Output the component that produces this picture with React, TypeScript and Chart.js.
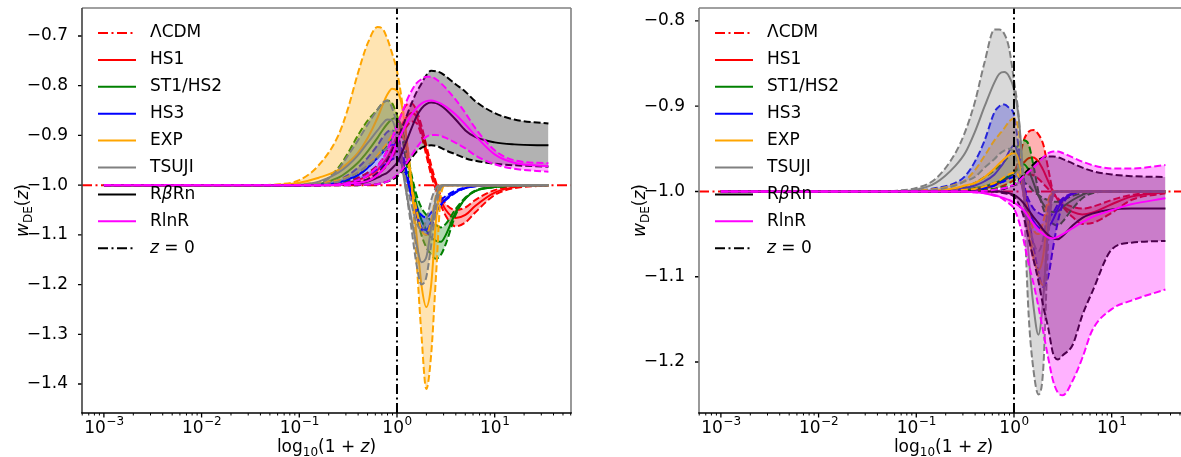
import React, { useEffect, useRef } from 'react';
import { Chart, registerables } from 'chart.js';

Chart.register(...registerables);

const FONT = '"DejaVu Sans", sans-serif';

// x grid (value of the log-scaled axis)
const X = [0.001, 0.0316, 0.0631, 0.1, 0.158, 0.251, 0.316, 0.398, 0.501, 0.631, 0.708, 0.794, 0.891, 1, 1.122, 1.259, 1.413, 1.585, 1.778, 1.995, 2.239, 2.512, 2.818, 3.162, 3.981, 5.012, 6.31, 10, 15.85, 35.48];

const X_TICKS = [0.001, 0.01, 0.1, 1, 10];
const X_TICK_BASE = '10';
const X_TICK_EXP = ['\u22123', '\u22122', '\u22121', '0', '1'];
const LEFT_Y_TICKS = [-1.4, -1.3, -1.2, -1.1, -1.0, -0.9, -0.8, -0.7];
const RIGHT_Y_TICKS = [-1.2, -1.1, -1.0, -0.9, -0.8];
const X_RANGE = [0.000597, 60.4];
const LEFT_Y_RANGE = [-1.4583, -0.6437];
const RIGHT_Y_RANGE = [-1.2598, -0.7848];
const LCDM_W = -1;
const Z0_X = 1;

const MODEL_NAMES = ['HS1', 'ST1/HS2', 'HS3', 'EXP', 'TSUJI', 'R\u03B2Rn', 'RlnR'];
const MODEL_COLORS = ['#ff0000', '#008000', '#0000ff', '#ffa500', '#808080', '#000000', '#ff00ff'];

// ---------- left panel ----------
const L_HS1_LO = [-1, -1, -1, -1, -1, -0.999, -0.997, -0.995, -0.99, -0.98, -0.97, -0.96, -0.945, -0.925, -0.9, -0.882, -0.872, -0.875, -0.9, -0.94, -0.98, -1.01, -1.04, -1.062, -1.083, -1.075, -1.055, -1.02, -1.006, -1.001];
const L_HS1_MID = [-1, -1, -1, -1, -0.999, -0.998, -0.995, -0.99, -0.982, -0.97, -0.958, -0.945, -0.925, -0.9, -0.878, -0.862, -0.855, -0.862, -0.89, -0.93, -0.97, -1.0, -1.03, -1.05, -1.066, -1.06, -1.042, -1.015, -1.004, -1.0];
const L_HS1_HI = [-1, -1, -1, -1, -0.999, -0.997, -0.993, -0.985, -0.975, -0.96, -0.948, -0.93, -0.905, -0.88, -0.855, -0.838, -0.836, -0.85, -0.88, -0.92, -0.96, -0.995, -1.022, -1.038, -1.05, -1.045, -1.03, -1.01, -1.003, -1.0];

const L_ST_LO = [-1, -1, -1, -1, -0.999, -0.995, -0.99, -0.98, -0.965, -0.945, -0.932, -0.92, -0.905, -0.892, -0.895, -0.93, -0.98, -1.02, -1.045, -1.06, -1.072, -1.08, -1.085, -1.078, -1.048, -1.025, -1.011, -1.004, -1.001, -1.0];
const L_ST_MID = [-1, -1, -1, -1, -0.998, -0.985, -0.972, -0.955, -0.932, -0.905, -0.89, -0.877, -0.867, -0.865, -0.885, -0.93, -0.99, -1.04, -1.07, -1.09, -1.105, -1.112, -1.114, -1.1, -1.055, -1.027, -1.012, -1.004, -1.001, -1.0];
const L_ST_HI = [-1, -1, -1, -1, -0.997, -0.965, -0.935, -0.9, -0.87, -0.848, -0.836, -0.83, -0.835, -0.86, -0.9, -0.96, -1.01, -1.06, -1.1, -1.125, -1.14, -1.148, -1.14, -1.118, -1.06, -1.027, -1.012, -1.004, -1.001, -1.0];

const L_HS3_LO = [-1, -1, -1, -1, -1, -0.998, -0.995, -0.99, -0.98, -0.968, -0.962, -0.955, -0.948, -0.945, -0.96, -0.99, -1.02, -1.045, -1.06, -1.065, -1.055, -1.042, -1.03, -1.022, -1.011, -1.005, -1.001, -1.0, -1.0, -1.0];
const L_HS3_MID = [-1, -1, -1, -1, -0.999, -0.995, -0.988, -0.98, -0.965, -0.945, -0.935, -0.925, -0.918, -0.92, -0.945, -0.985, -1.025, -1.06, -1.085, -1.09, -1.075, -1.055, -1.04, -1.028, -1.014, -1.006, -1.002, -1.0, -1.0, -1.0];
const L_HS3_HI = [-1, -1, -1, -1, -0.998, -0.99, -0.98, -0.965, -0.945, -0.92, -0.905, -0.893, -0.89, -0.9, -0.93, -0.975, -1.02, -1.06, -1.09, -1.1, -1.085, -1.06, -1.04, -1.03, -1.015, -1.006, -1.002, -1.0, -1.0, -1.0];

const L_EXP_LO = [-1, -1, -1, -0.998, -0.995, -0.99, -0.983, -0.975, -0.96, -0.94, -0.928, -0.915, -0.9, -0.89, -0.895, -0.94, -1.0, -1.05, -1.09, -1.1, -1.07, -1.02, -1.0, -1.0, -1.0, -1.0, -1.0, -1.0, -1.0, -1.0];
const L_EXP_MID = [-1, -1, -0.999, -0.995, -0.985, -0.97, -0.955, -0.935, -0.905, -0.865, -0.84, -0.818, -0.806, -0.81, -0.84, -0.91, -1.0, -1.1, -1.2, -1.245, -1.2, -1.07, -1.0, -1.0, -1.0, -1.0, -1.0, -1.0, -1.0, -1.0];
const L_EXP_HI = [-1, -1, -0.998, -0.99, -0.96, -0.9, -0.845, -0.775, -0.715, -0.682, -0.685, -0.705, -0.735, -0.77, -0.83, -0.91, -1.0, -1.15, -1.3, -1.41, -1.34, -1.18, -1.02, -1.0, -1.0, -1.0, -1.0, -1.0, -1.0, -1.0];

const L_TS_LO = [-1, -1, -1, -1, -0.999, -0.993, -0.985, -0.975, -0.96, -0.945, -0.935, -0.925, -0.915, -0.915, -0.95, -1.0, -1.04, -1.075, -1.09, -1.07, -1.03, -1.005, -1.0, -1.0, -1.0, -1.0, -1.0, -1.0, -1.0, -1.0];
const L_TS_MID = [-1, -1, -1, -0.999, -0.993, -0.975, -0.96, -0.94, -0.915, -0.89, -0.877, -0.868, -0.87, -0.9, -0.96, -1.02, -1.07, -1.12, -1.155, -1.145, -1.085, -1.025, -1.0, -1.0, -1.0, -1.0, -1.0, -1.0, -1.0, -1.0];
const L_TS_HI = [-1, -1, -1, -1, -0.997, -0.968, -0.94, -0.91, -0.878, -0.848, -0.835, -0.83, -0.845, -0.88, -0.95, -1.02, -1.09, -1.16, -1.2, -1.185, -1.12, -1.045, -1.005, -1.0, -1.0, -1.0, -1.0, -1.0, -1.0, -1.0];

const L_RB_LO = [-1, -1, -1, -1, -1, -1, -1, -1, -0.999, -0.998, -0.996, -0.993, -0.989, -0.983, -0.972, -0.958, -0.945, -0.933, -0.925, -0.921, -0.92, -0.921, -0.925, -0.93, -0.938, -0.946, -0.951, -0.957, -0.96, -0.963];
const L_RB_MID = [-1, -1, -1, -1, -1, -0.999, -0.998, -0.997, -0.993, -0.985, -0.98, -0.975, -0.966, -0.955, -0.935, -0.91, -0.885, -0.862, -0.846, -0.837, -0.834, -0.835, -0.84, -0.848, -0.868, -0.89, -0.903, -0.914, -0.918, -0.92];
const L_RB_HI = [-1, -1, -1, -1, -1, -0.998, -0.996, -0.993, -0.988, -0.975, -0.965, -0.95, -0.93, -0.91, -0.885, -0.86, -0.835, -0.813, -0.796, -0.779, -0.77, -0.771, -0.774, -0.781, -0.797, -0.812, -0.831, -0.855, -0.868, -0.876];

const L_RL_LO = [-1, -1, -1, -1, -1, -1, -1, -0.999, -0.999, -0.998, -0.996, -0.993, -0.987, -0.98, -0.97, -0.955, -0.94, -0.925, -0.912, -0.903, -0.899, -0.899, -0.901, -0.905, -0.915, -0.926, -0.94, -0.958, -0.967, -0.973];
const L_RL_MID = [-1, -1, -1, -1, -1, -0.999, -0.997, -0.995, -0.992, -0.98, -0.97, -0.958, -0.94, -0.915, -0.895, -0.875, -0.858, -0.845, -0.836, -0.831, -0.83, -0.832, -0.836, -0.842, -0.858, -0.878, -0.9, -0.938, -0.955, -0.962];
const L_RL_HI = [-1, -1, -1, -1, -1, -0.998, -0.995, -0.99, -0.98, -0.962, -0.948, -0.93, -0.905, -0.88, -0.855, -0.83, -0.81, -0.795, -0.787, -0.782, -0.782, -0.787, -0.795, -0.805, -0.828, -0.855, -0.885, -0.93, -0.95, -0.956];

// ---------- right panel ----------
const R_HS1_LO = [-1, -1, -1, -1, -1, -1, -1, -0.999, -0.998, -0.997, -0.995, -0.993, -0.99, -0.987, -0.984, -0.981, -0.98, -0.981, -0.985, -0.991, -0.997, -1.002, -1.01, -1.018, -1.03, -1.038, -1.037, -1.025, -1.01, -1.002];
const R_HS1_MID = [-1, -1, -1, -1, -1, -1, -0.999, -0.998, -0.996, -0.993, -0.99, -0.987, -0.983, -0.978, -0.972, -0.966, -0.961, -0.96, -0.965, -0.975, -0.988, -1.0, -1.01, -1.017, -1.024, -1.027, -1.025, -1.015, -1.006, -1.001];
const R_HS1_HI = [-1, -1, -1, -1, -1, -0.999, -0.998, -0.997, -0.995, -0.992, -0.989, -0.986, -0.982, -0.977, -0.963, -0.94, -0.93, -0.928, -0.933, -0.945, -0.973, -1.0, -1.008, -1.013, -1.018, -1.02, -1.018, -1.01, -1.004, -1.0];

const R_ST_LO = [-1, -1, -1, -1, -1, -1, -1, -0.999, -0.998, -0.997, -0.996, -0.995, -0.994, -0.993, -0.991, -0.99, -0.993, -1.0, -1.004, -1.008, -1.01, -1.012, -1.012, -1.01, -1.005, -1.002, -1.0, -1.0, -1.0, -1.0];
const R_ST_MID = [-1, -1, -1, -1, -1, -0.999, -0.998, -0.996, -0.994, -0.99, -0.988, -0.985, -0.982, -0.978, -0.972, -0.968, -0.975, -0.99, -1.005, -1.015, -1.022, -1.024, -1.023, -1.018, -1.01, -1.004, -1.0, -1.0, -1.0, -1.0];
const R_ST_HI = [-1, -1, -1, -1, -1, -0.997, -0.995, -0.99, -0.983, -0.975, -0.97, -0.965, -0.958, -0.952, -0.945, -0.94, -0.945, -0.97, -1.0, -1.02, -1.032, -1.038, -1.04, -1.035, -1.02, -1.008, -1.002, -1.0, -1.0, -1.0];

const R_HS3_LO = [-1, -1, -1, -1, -1, -1, -1, -0.998, -0.996, -0.993, -0.99, -0.988, -0.985, -0.983, -0.985, -0.995, -1.01, -1.02, -1.025, -1.028, -1.03, -1.025, -1.015, -1.008, -1.002, -1.0, -1.0, -1.0, -1.0, -1.0];
const R_HS3_MID = [-1, -1, -1, -1, -0.999, -0.998, -0.996, -0.993, -0.988, -0.98, -0.973, -0.965, -0.953, -0.946, -0.96, -0.995, -1.02, -1.035, -1.042, -1.045, -1.042, -1.033, -1.02, -1.01, -1.003, -1.0, -1.0, -1.0, -1.0, -1.0];
const R_HS3_HI = [-1, -1, -1, -0.999, -0.996, -0.99, -0.982, -0.965, -0.94, -0.907, -0.9, -0.898, -0.902, -0.91, -0.95, -0.985, -1.03, -1.065, -1.095, -1.112, -1.1, -1.066, -1.035, -1.015, -1.003, -1.0, -1.0, -1.0, -1.0, -1.0];

const R_EXP_LO = [-1, -1, -1, -1, -1, -0.999, -0.998, -0.997, -0.994, -0.99, -0.987, -0.983, -0.98, -0.978, -0.982, -1.0, -1.025, -1.045, -1.05, -1.035, -1.01, -1.0, -1.0, -1.0, -1.0, -1.0, -1.0, -1.0, -1.0, -1.0];
const R_EXP_MID = [-1, -1, -1, -1, -0.999, -0.996, -0.993, -0.99, -0.983, -0.973, -0.967, -0.962, -0.957, -0.955, -0.965, -1.005, -1.05, -1.08, -1.092, -1.075, -1.02, -1.0, -1.0, -1.0, -1.0, -1.0, -1.0, -1.0, -1.0, -1.0];
const R_EXP_HI = [-1, -1, -1, -0.999, -0.997, -0.992, -0.987, -0.975, -0.958, -0.94, -0.933, -0.926, -0.918, -0.914, -0.93, -0.995, -1.04, -1.075, -1.1, -1.11, -1.04, -1.0, -1.0, -1.0, -1.0, -1.0, -1.0, -1.0, -1.0, -1.0];

const R_TS_LO = [-1, -1, -1, -1, -0.998, -0.993, -0.988, -0.983, -0.972, -0.962, -0.956, -0.952, -0.95, -0.955, -0.975, -1.005, -1.035, -1.06, -1.07, -1.055, -1.02, -1.0, -1.0, -1.0, -1.0, -1.0, -1.0, -1.0, -1.0, -1.0];
const R_TS_MID = [-1, -1, -1, -0.998, -0.99, -0.97, -0.955, -0.93, -0.9, -0.872, -0.862, -0.86, -0.865, -0.88, -0.915, -0.99, -1.075, -1.135, -1.168, -1.125, -1.04, -1.003, -1.0, -1.0, -1.0, -1.0, -1.0, -1.0, -1.0, -1.0];
const R_TS_HI = [-1, -1, -0.999, -0.996, -0.985, -0.955, -0.93, -0.895, -0.848, -0.81, -0.81, -0.815, -0.832, -0.87, -0.915, -1.01, -1.145, -1.21, -1.238, -1.207, -1.06, -1.005, -1.0, -1.0, -1.0, -1.0, -1.0, -1.0, -1.0, -1.0];

const R_RB_LO = [-1, -1, -1, -1, -1, -1, -1, -1, -1, -1, -1.001, -1.002, -1.003, -1.006, -1.015, -1.03, -1.055, -1.08, -1.105, -1.135, -1.16, -1.19, -1.197, -1.192, -1.18, -1.145, -1.118, -1.068, -1.06, -1.058];
const R_RB_MID = [-1, -1, -1, -1, -1, -1, -1, -1, -1, -1, -1, -1.001, -1.002, -1.004, -1.008, -1.014, -1.022, -1.03, -1.037, -1.045, -1.051, -1.055, -1.056, -1.052, -1.04, -1.031, -1.026, -1.021, -1.02, -1.02];
const R_RB_HI = [-1, -1, -1, -1, -1, -1, -1, -1, -0.999, -0.999, -0.998, -0.997, -0.995, -0.992, -0.987, -0.98, -0.974, -0.968, -0.963, -0.96, -0.959, -0.959, -0.96, -0.962, -0.967, -0.972, -0.976, -0.98, -0.982, -0.983];

const R_RL_LO = [-1, -1, -1, -1, -1, -1, -1, -1.001, -1.002, -1.004, -1.006, -1.01, -1.014, -1.02, -1.035, -1.058, -1.085, -1.108, -1.135, -1.165, -1.195, -1.222, -1.236, -1.239, -1.222, -1.195, -1.163, -1.138, -1.128, -1.115];
const R_RL_MID = [-1, -1, -1, -1, -1, -1, -1, -1.001, -1.002, -1.005, -1.006, -1.008, -1.01, -1.013, -1.017, -1.022, -1.03, -1.038, -1.045, -1.05, -1.054, -1.055, -1.053, -1.05, -1.043, -1.036, -1.03, -1.022, -1.015, -1.008];
const R_RL_HI = [-1, -1, -1, -1, -1, -1, -1, -1, -0.999, -0.998, -0.997, -0.996, -0.994, -0.992, -0.988, -0.982, -0.977, -0.972, -0.966, -0.96, -0.955, -0.953, -0.953, -0.955, -0.96, -0.965, -0.969, -0.973, -0.973, -0.969];

const LEFT_MODELS = [
  [L_HS1_LO, L_HS1_MID, L_HS1_HI],
  [L_ST_LO, L_ST_MID, L_ST_HI],
  [L_HS3_LO, L_HS3_MID, L_HS3_HI],
  [L_EXP_LO, L_EXP_MID, L_EXP_HI],
  [L_TS_LO, L_TS_MID, L_TS_HI],
  [L_RB_LO, L_RB_MID, L_RB_HI],
  [L_RL_LO, L_RL_MID, L_RL_HI],
];
const RIGHT_MODELS = [
  [R_HS1_LO, R_HS1_MID, R_HS1_HI],
  [R_ST_LO, R_ST_MID, R_ST_HI],
  [R_HS3_LO, R_HS3_MID, R_HS3_HI],
  [R_EXP_LO, R_EXP_MID, R_EXP_HI],
  [R_TS_LO, R_TS_MID, R_TS_HI],
  [R_RB_LO, R_RB_MID, R_RB_HI],
  [R_RL_LO, R_RL_MID, R_RL_HI],
];

const DASH = [7, 3];
const DASHDOT = [10, 3.5, 2, 3.5];

type Seg = { t: string; it?: boolean; sub?: boolean };

const LEGEND: { segs: Seg[]; color: string; dash: number[] }[] = [
  { segs: [{ t: '\u039BCDM' }], color: '#ff0000', dash: DASHDOT },
  { segs: [{ t: 'HS1' }], color: MODEL_COLORS[0], dash: [] },
  { segs: [{ t: 'ST1/HS2' }], color: MODEL_COLORS[1], dash: [] },
  { segs: [{ t: 'HS3' }], color: MODEL_COLORS[2], dash: [] },
  { segs: [{ t: 'EXP' }], color: MODEL_COLORS[3], dash: [] },
  { segs: [{ t: 'TSUJI' }], color: MODEL_COLORS[4], dash: [] },
  { segs: [{ t: 'R' }, { t: '\u03B2', it: true }, { t: 'Rn' }], color: MODEL_COLORS[5], dash: [] },
  { segs: [{ t: 'RlnR' }], color: MODEL_COLORS[6], dash: [] },
  { segs: [{ t: 'z', it: true }, { t: ' = 0' }], color: '#000000', dash: DASHDOT },
];

const X_TITLE: Seg[] = [{ t: 'log' }, { t: '10', sub: true }, { t: '(1 + ' }, { t: 'z', it: true }, { t: ')' }];
const Y_TITLE: Seg[] = [{ t: 'w', it: true }, { t: 'DE', sub: true }, { t: '(' }, { t: 'z', it: true }, { t: ')' }];

const X_MINOR: number[] = [];
for (let e = -4; e <= 1; e++) for (let k = 2; k <= 9; k++) X_MINOR.push(k * Math.pow(10, e));

function rgba(hex: string, a: number) {
  const n = parseInt(hex.slice(1), 16);
  return `rgba(${(n >> 16) & 255},${(n >> 8) & 255},${n & 255},${a})`;
}

function drawRich(ctx: CanvasRenderingContext2D, segs: Seg[], x: number, y: number, size: number, align: 'left' | 'center') {
  const font = (s: Seg) => `${s.it ? 'italic ' : ''}${s.sub ? Math.round(size * 0.7) : size}px ${FONT}`;
  let w = 0;
  for (const s of segs) {
    ctx.font = font(s);
    w += ctx.measureText(s.t).width;
  }
  let cx = align === 'center' ? x - w / 2 : x;
  ctx.textAlign = 'left';
  for (const s of segs) {
    ctx.font = font(s);
    ctx.fillText(s.t, cx, y + (s.sub ? size * 0.22 : 0));
    cx += ctx.measureText(s.t).width;
  }
}

const decorPlugin = {
  id: 'decor',
  afterDraw(chart: any, _args: any, opts: any) {
    const { ctx, chartArea: ca } = chart;
    const xs = chart.scales.x;
    const ys = chart.scales.y;
    ctx.save();
    ctx.setLineDash([]);
    ctx.strokeStyle = '#000';
    ctx.lineWidth = 1.3;
    ctx.beginPath();
    for (const v of opts.yTicks) {
      const p = ys.getPixelForValue(v);
      ctx.moveTo(ca.left, p);
      ctx.lineTo(ca.left - 4, p);
    }
    for (const v of X_TICKS) {
      const p = xs.getPixelForValue(v);
      ctx.moveTo(p, ca.bottom);
      ctx.lineTo(p, ca.bottom + 4.5);
    }
    ctx.stroke();
    ctx.lineWidth = 1;
    ctx.beginPath();
    for (const v of X_MINOR) {
      if (v <= xs.min || v >= xs.max) continue;
      const p = xs.getPixelForValue(v);
      ctx.moveTo(p, ca.bottom);
      ctx.lineTo(p, ca.bottom + 2.5);
    }
    ctx.stroke();

    const seg = (c: string, x1: number, y1: number, x2: number, y2: number) => {
      ctx.strokeStyle = c;
      ctx.lineWidth = 1.6;
      ctx.beginPath();
      ctx.moveTo(x1, y1);
      ctx.lineTo(x2, y2);
      ctx.stroke();
    };
    seg('#808080', ca.left, ca.top, ca.right, ca.top);
    seg('#808080', ca.right, ca.top, ca.right, ca.bottom);
    seg(opts.leftSpine, ca.left, ca.top, ca.left, ca.bottom);
    seg('#000000', ca.left - 0.8, ca.bottom, ca.right + 0.8, ca.bottom);

    // x tick labels, 10 with a raised exponent
    ctx.fillStyle = '#000';
    ctx.textBaseline = 'alphabetic';
    ctx.textAlign = 'left';
    X_TICKS.forEach((v, i) => {
      const p = xs.getPixelForValue(v);
      ctx.font = `17px ${FONT}`;
      const wb = ctx.measureText(X_TICK_BASE).width;
      ctx.font = `12px ${FONT}`;
      const we = ctx.measureText(X_TICK_EXP[i]).width;
      const x0 = p - (wb + we) / 2;
      ctx.font = `17px ${FONT}`;
      ctx.fillText(X_TICK_BASE, x0, ca.bottom + 20);
      ctx.font = `12px ${FONT}`;
      ctx.fillText(X_TICK_EXP[i], x0 + wb + 0.5, ca.bottom + 12);
    });

    drawRich(ctx, X_TITLE, (ca.left + ca.right) / 2, ca.bottom + 39, 17, 'center');
    ctx.save();
    ctx.translate(ca.left - 54, (ca.top + ca.bottom) / 2);
    ctx.rotate(-Math.PI / 2);
    drawRich(ctx, Y_TITLE, 0, 0, 17, 'center');
    ctx.restore();

    LEGEND.forEach((e, i) => {
      const y = ca.top + 25 + 26.9 * i;
      ctx.strokeStyle = e.color;
      ctx.lineWidth = 2;
      ctx.setLineDash(e.dash);
      ctx.beginPath();
      ctx.moveTo(ca.left + 16, y);
      ctx.lineTo(ca.left + 54, y);
      ctx.stroke();
      ctx.setLineDash([]);
      ctx.fillStyle = '#000';
      ctx.textBaseline = 'middle';
      drawRich(ctx, e.segs, ca.left + 68, y, 17, 'left');
    });
    ctx.restore();
  },
};

type PanelCfg = {
  left: number;
  width: number;
  axisW: number;
  models: number[][][];
  yRange: number[];
  yTicks: number[];
  leftSpine: string;
};

function buildDatasets(cfg: PanelCfg) {
  const ds: any[] = [];
  const pts = (arr: number[]) => X.map((x, i) => ({ x, y: arr[i] }));
  ds.push({
    label: '\u039BCDM',
    data: X_RANGE.map((x) => ({ x, y: LCDM_W })),
    borderColor: '#ff0000',
    borderWidth: 2,
    borderDash: DASHDOT,
    tension: 0,
    cubicInterpolationMode: 'default',
    fill: false,
  });
  cfg.models.forEach(([lo, mid, hi], m) => {
    const c = MODEL_COLORS[m];
    ds.push({ label: MODEL_NAMES[m] + ' lo', data: pts(lo), borderColor: c, borderWidth: 2, borderDash: DASH, fill: false });
    ds.push({ label: MODEL_NAMES[m] + ' hi', data: pts(hi), borderColor: c, borderWidth: 2, borderDash: DASH, fill: '-1', backgroundColor: rgba(c, 0.3) });
    ds.push({ label: MODEL_NAMES[m], data: pts(mid), borderColor: c, borderWidth: 2, fill: false });
  });
  ds.push({
    label: 'z = 0',
    data: cfg.yRange.map((y) => ({ x: Z0_X, y })),
    borderColor: '#000000',
    borderWidth: 2,
    borderDash: DASHDOT,
    tension: 0,
    cubicInterpolationMode: 'default',
    fill: false,
  });
  ds.forEach((d, i) => {
    d.order = -i;
    d.pointRadius = 0;
  });
  return ds;
}

function makeConfig(cfg: PanelCfg): any {
  const tickFont = { family: FONT, size: 17 };
  return {
    type: 'line',
    data: { datasets: buildDatasets(cfg) },
    plugins: [decorPlugin],
    options: {
      responsive: false,
      animation: false,
      devicePixelRatio: 1,
      events: [],
      layout: { padding: { left: 0, right: 19, top: 8, bottom: 0 } },
      elements: { point: { radius: 0 }, line: { cubicInterpolationMode: 'monotone' } },
      plugins: {
        legend: { display: false },
        tooltip: { enabled: false },
        decor: { yTicks: cfg.yTicks, leftSpine: cfg.leftSpine },
      },
      scales: {
        x: {
          type: 'logarithmic',
          min: X_RANGE[0],
          max: X_RANGE[1],
          grid: { display: false },
          border: { display: false },
          afterBuildTicks: (s: any) => {
            s.ticks = X_TICKS.map((v) => ({ value: v }));
          },
          afterFit: (s: any) => {
            s.height = 44;
            s.paddingLeft = 0;
            s.paddingRight = 0;
          },
          ticks: { display: false, autoSkip: false, maxRotation: 0, minRotation: 0 },
        },
        y: {
          type: 'linear',
          min: cfg.yRange[0],
          max: cfg.yRange[1],
          grid: { display: false },
          border: { display: false },
          afterBuildTicks: (s: any) => {
            s.ticks = cfg.yTicks.map((v) => ({ value: v }));
          },
          afterFit: (s: any) => {
            s.width = cfg.axisW;
            s.paddingTop = 0;
            s.paddingBottom = 0;
          },
          ticks: {
            padding: 6,
            color: '#000',
            font: tickFont,
            callback: (v: number) => (v < 0 ? '\u2212' : '') + Math.abs(v).toFixed(1),
          },
        },
      },
    },
  };
}

const LEFT_CFG: PanelCfg = { left: 0, width: 590, axisW: 82, models: LEFT_MODELS, yRange: LEFT_Y_RANGE, yTicks: LEFT_Y_TICKS, leftSpine: '#404040' };
const RIGHT_CFG: PanelCfg = { left: 590, width: 617, axisW: 109, models: RIGHT_MODELS, yRange: RIGHT_Y_RANGE, yTicks: RIGHT_Y_TICKS, leftSpine: '#808080' };

function ChartPanel({ cfg }: { cfg: PanelCfg }) {
  const ref = useRef<HTMLCanvasElement | null>(null);
  useEffect(() => {
    if (!ref.current) return;
    const chart = new Chart(ref.current, makeConfig(cfg));
    return () => chart.destroy();
  }, [cfg]);
  return (
    <canvas
      ref={ref}
      width={cfg.width}
      height={457}
      style={{ position: 'absolute', left: cfg.left, top: 0, width: cfg.width, height: 457 }}
    />
  );
}

export default function App() {
  return (
    <div style={{ position: 'fixed', left: 0, top: 0, width: 1181, height: 457, overflow: 'hidden', background: '#ffffff' }}>
      <ChartPanel cfg={LEFT_CFG} />
      <ChartPanel cfg={RIGHT_CFG} />
    </div>
  );
}
